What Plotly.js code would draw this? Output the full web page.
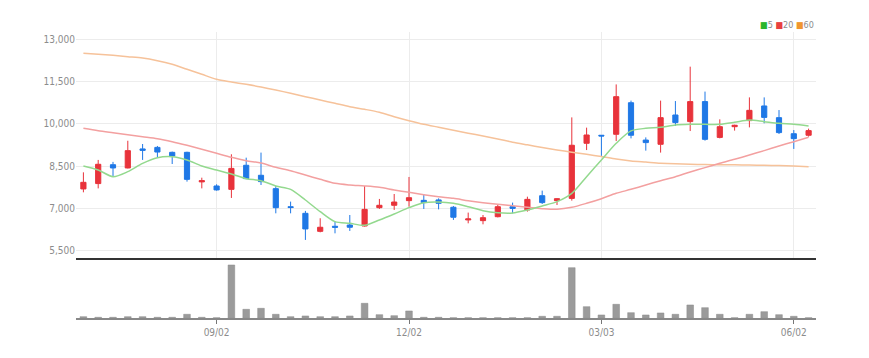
<!DOCTYPE html>
<html>
<head>
<meta charset="utf-8">
<script src="https://cdn.plot.ly/plotly-3.0.1.min.js"></script>
<style>html,body{margin:0;padding:0;background:#fff;}#chart{width:869px;height:358px;}</style>
</head>
<body>
<div id="chart"></div>
<script>
const dates = ["2024-07-01","2024-07-08","2024-07-15","2024-07-22","2024-07-29","2024-08-05","2024-08-12","2024-08-19","2024-08-26","2024-09-02",
"2024-09-09","2024-09-16","2024-09-23","2024-09-30","2024-10-07","2024-10-14","2024-10-21","2024-10-28","2024-11-04","2024-11-11",
"2024-11-18","2024-11-25","2024-12-02","2024-12-09","2024-12-16","2024-12-23","2024-12-30","2025-01-06","2025-01-13","2025-01-20",
"2025-01-27","2025-02-03","2025-02-10","2025-02-17","2025-02-24","2025-03-03","2025-03-10","2025-03-17","2025-03-24","2025-03-31",
"2025-04-07","2025-04-14","2025-04-21","2025-04-28","2025-05-05","2025-05-12","2025-05-19","2025-05-26","2025-06-02","2025-06-09"];

const openP  = [7690,7880,8550,8435,9110,9165,8990,8990,7940,7795, 7675,8530,8175,7700,7060,6825,6185,6365,6410,6375, 7025,7110,7275,7285,7300,7040,6590,6565,6705,7060, 6945,7450,7275,7355,9310,9595,9630,10750,9425,9275, 10315,10080,10790,9520,9900,10115,10635,10220,9650,9595];
const highP  = [8280,8720,8650,9400,9285,9215,9015,9010,8090,7855, 8920,8800,8980,7795,7240,6910,6650,6530,6765,7795, 7335,7510,8115,7510,7355,7085,6850,6765,7155,7205, 7415,7630,7360,10230,9865,9600,11400,10825,9520,10825, 10810,12030,11145,10160,9970,10940,10940,10490,9780,9830];
const lowP   = [7570,7710,8125,8420,8720,8800,8575,7950,7710,7630, 7370,8040,7830,6825,6825,5880,6150,6115,6200,6355, 6980,6945,7060,6980,6965,6590,6470,6435,6680,6825, 6885,7155,7120,7275,9070,8860,9390,9485,9050,8980, 9925,9745,9405,9485,9760,9875,10020,9640,9110,9545];
const closeP = [7925,8565,8435,9050,9060,9000,8860,8030,7985,7655, 8420,8055,7950,7025,7030,6270,6330,6330,6330,6965, 7110,7225,7380,7205,7180,6685,6625,6670,7060,7000, 7320,7205,7345,9240,9605,9570,10965,9595,9335,10220, 10045,10790,9450,9900,9950,10480,10230,9690,9475,9760];

const ma5  = [8505,8362,8126,8303,8600,8800,8836,8717,8505,8362, 8220,8055,7984,7795,7676,7298,6884,6529,6470,6399, 6588,6801,7026,7203,7227,7180,7061,6919,6848,6837, 6943,7085,7239,7535,8126,8717,9309,9750,9841,9877, 9960,9983,9983,9983,10054,10137,10078,10019,9983,9924];
const ma20 = [9841,9758,9687,9617,9546,9475,9368,9238,9096,8954, 8812,8694,8610,8457,8339,8185,8031,7889,7830,7795, 7747,7653,7570,7487,7416,7357,7274,7203,7144,7097, 7038,6990,6967,7038,7180,7345,7535,7676,7830,7984, 8126,8292,8446,8600,8741,8895,9049,9214,9368,9522];
const ma60 = [12503,12468,12432,12385,12338,12243,12113,11935,11758,11580, 11485,11403,11310,11202,11084,10965,10847,10729,10611,10516, 10409,10255,10113,9985,9880,9775,9670,9569,9463,9350, 9255,9160,9075,8995,8920,8840,8750,8685,8645,8605, 8580,8565,8555,8550,8545,8540,8530,8520,8505,8481];

const volume = [5,3,3,5,5,3,3,12,3,2, 160,27,30,12,5,7,5,5,7,45, 11,8,22,3,3,2,2,2,2,2, 2,6,6,152,35,10,42,17,10,16, 12,40,32,12,2,12,20,11,6,2];

const tickDates = ["2024-09-02","2024-12-02","2025-03-03","2025-06-02"];
const tickText  = ["09/02","12/02","03/03","06/02"];
const priceTicks = [5500,7000,8500,10000,11500,13000];

const UP = '#e8333b', DOWN = '#1f78e6';
const FONT = 'Liberation Sans Narrow, DejaVu Sans Condensed, Arial, sans-serif';

const traces = [
  {type:'candlestick', x:dates, open:openP, high:highP, low:lowP, close:closeP, xaxis:'x', yaxis:'y',
   increasing:{line:{color:UP,width:1}, fillcolor:UP},
   decreasing:{line:{color:DOWN,width:1}, fillcolor:DOWN},
   whiskerwidth:0, showlegend:false, hoverinfo:'skip'},
  {type:'scatter', mode:'lines', x:dates, y:ma60, xaxis:'x', yaxis:'y', line:{color:'#f6c29a', width:1.5, shape:'spline', smoothing:0.8}, showlegend:false, hoverinfo:'skip'},
  {type:'scatter', mode:'lines', x:dates, y:ma20, xaxis:'x', yaxis:'y', line:{color:'#f3a0a0', width:1.5, shape:'spline', smoothing:0.8}, showlegend:false, hoverinfo:'skip'},
  {type:'scatter', mode:'lines', x:dates, y:ma5, xaxis:'x', yaxis:'y', line:{color:'#93d98e', width:1.5, shape:'spline', smoothing:0.8}, showlegend:false, hoverinfo:'skip'},
  {type:'bar', x:dates, y:volume, xaxis:'x2', yaxis:'y2', marker:{color:'#9b9b9b', line:{color:'#8a8a8a', width:0.5}}, width:0.45, showlegend:false, hoverinfo:'skip'}
];

const layout = {
  width:869, height:358,
  margin:{l:76, r:53, t:0, b:0},
  paper_bgcolor:'#fff', plot_bgcolor:'#fff',
  font:{family:FONT, size:10, color:'#8c8c8c'},
  boxgap:0.5,
  showlegend:false,
  xaxis:{type:'category', domain:[0,1], anchor:'y', range:[-0.5,49.5], rangeslider:{visible:false},
         tickvals:tickDates, ticktext:tickText, showticklabels:false, ticks:'',
         showgrid:true, gridcolor:'#ececec', gridwidth:1, zeroline:false,
         showline:true, linecolor:'#333', linewidth:2, fixedrange:true},
  yaxis:{domain:[0.2802,0.9106], range:[5250,13260], tickvals:priceTicks, tickformat:',d',
         showgrid:true, gridcolor:'#ececec', gridwidth:1, zeroline:false, showline:false, ticks:'',
         tickfont:{family:FONT, size:10, color:'#8c8c8c'}, fixedrange:true},
  xaxis2:{type:'category', domain:[0,1], anchor:'y2', matches:'x', range:[-0.5,49.5],
          tickvals:tickDates, ticktext:tickText, showticklabels:true, ticks:'outside', ticklen:4, tickcolor:'#777',
          showgrid:false, zeroline:false, showline:true, linecolor:'#888', linewidth:2,
          tickfont:{family:FONT, size:10, color:'#8c8c8c'}, fixedrange:true},
  yaxis2:{domain:[0.1109,0.2682], range:[0,169], showticklabels:false, showgrid:false, zeroline:false, showline:false, ticks:'', fixedrange:true},
  annotations:[{xref:'paper', yref:'paper', x:1, y:0.930, xanchor:'right', yanchor:'middle', showarrow:false,
    font:{family:FONT, size:9, color:'#8c8c8c'},
    text:"<span style='color:#2bb52b'>■</span>5 <span style='color:#e84040'>■</span>20 <span style='color:#f0962e'>■</span>60"}]
};

Plotly.newPlot('chart', traces, layout, {displayModeBar:false, staticPlot:true});
</script>
</body>
</html>
